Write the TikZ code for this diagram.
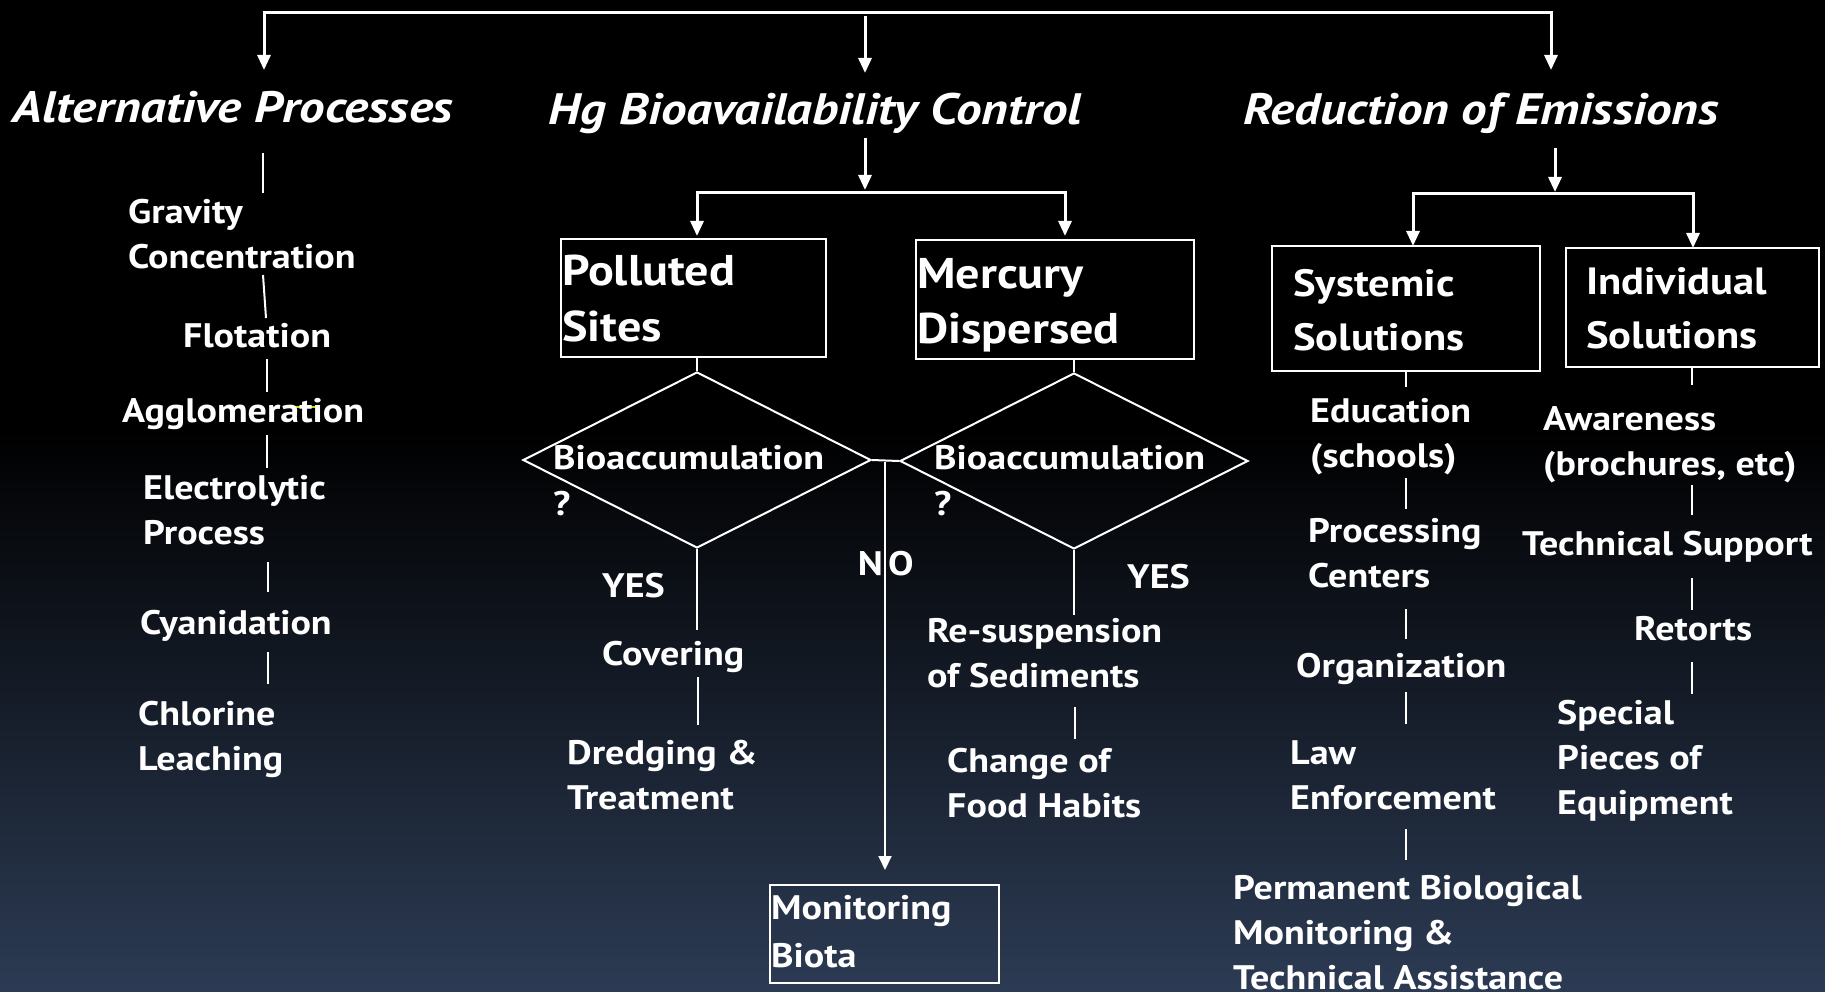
\documentclass[tikz,border=0pt]{standalone}
\usepackage{fontspec}
\setmainfont{PT Sans}[FakeStretch=1.12]
\newfontfamily\headfam{PT Sans}[FakeStretch=1.16]
\usetikzlibrary{shapes.geometric,arrows.meta}

\definecolor{bgnavy}{RGB}{44,59,84}
\definecolor{markyellow}{RGB}{215,210,0}

% multi-line texts are placed by the baseline of their last line
\newcommand\bodyfont{\fontsize{34}{45}\selectfont\bfseries}
\newcommand\headfont{\headfam\fontsize{44}{50}\selectfont\bfseries\itshape}
\newcommand\bigboxfont{\fontsize{43}{55}\selectfont\bfseries}
\newcommand\solfont{\fontsize{38}{54}\selectfont\bfseries}
\newcommand\diafont{\fontsize{34}{46}\selectfont\bfseries}
\newcommand\monfont{\fontsize{34}{48}\selectfont\bfseries}

\begin{document}
\begin{tikzpicture}[x=1pt,y=-1pt,
  every node/.style={text=white, inner sep=0pt, font=\bodyfont},
  txt/.style={anchor=base west, align=left},
  head/.style={anchor=base, font=\headfont},
  main/.style={draw=white, line width=3pt},
  conn/.style={draw=white, line width=2pt},
  tip/.style={-{Triangle[length=15pt,width=13pt]}},
  bothtips/.style={{Triangle[length=15pt,width=13pt]}-{Triangle[length=15pt,width=13pt]}},
  frame/.style={draw=white, line width=2pt, rectangle, anchor=north west},
  dia/.style={draw=white, line width=2pt, diamond, minimum width=348pt, minimum height=176pt}
]
\useasboundingbox (0,0) rectangle (1825,992);
\fill[black] (0,0) rectangle (1825,992);
\shade[top color=black, bottom color=bgnavy] (0,430) rectangle (1825,992);

% ---------- top level ----------
\node[head] (alt) at (233,123) {Alternative Processes};
\node[head] (hg)  at (815,125) {Hg Bioavailability Control};
\node[head] (red) at (1481,125) {Reduction of Emissions};

\coordinate (tl) at (264,13);
\coordinate (tr) at (1551,13);
\coordinate (altin) at (264,70);
\coordinate (redin) at (1551,70);
\coordinate (hgtop) at (865,16);
\coordinate (hgin) at (865,73);
\draw[main,bothtips] (altin) |- (tr) -- (redin);
\draw[main,tip] (hgtop) -- (hgin);

% ---------- alternative processes ----------
\draw[markyellow, line width=1.5pt] (283,407) -- (318,407);
\node[txt] (grav) at (128,269) {Gravity\\Concentration};
\node[txt] (flot) at (183,347) {Flotation};
\node[txt] (aggl) at (122,422) {Agglomeration};
\node[txt] (elec) at (143,544) {Electrolytic\\Process};
\node[txt] (cyan) at (140,634) {Cyanidation};
\node[txt] (chlo) at (138,770) {Chlorine\\Leaching};

\coordinate (a1) at (263,153); \coordinate (a2) at (263,193);
\coordinate (a3) at (263,275); \coordinate (a4) at (266,318);
\coordinate (a5) at (267,359); \coordinate (a6) at (267,392);
\coordinate (a7) at (267,435); \coordinate (a8) at (267,468);
\coordinate (a9) at (268,562); \coordinate (a10) at (268,592);
\coordinate (a11) at (268,652); \coordinate (a12) at (268,684);
\draw[conn] (a1) -- (a2);
\draw[conn] (a3) -- (a4);
\draw[conn] (a5) -- (a6);
\draw[conn] (a7) -- (a8);
\draw[conn] (a9) -- (a10);
\draw[conn] (a11) -- (a12);

% ---------- Hg bioavailability control ----------
\coordinate (hgs) at (865,138);
\coordinate (hgj) at (865,190);
\draw[main,tip] (hgs) -- (hgj);
\coordinate (psin) at (697,236);
\coordinate (mdin) at (1065,236);
\coordinate (mdbr) at (1065,193);
\draw[main,bothtips] (psin) |- (mdbr) -- (mdin);

\node[frame, minimum width=265pt, minimum height=118pt] (ps) at (560,238) {};
\node[txt, font=\bigboxfont] (pst) at (562,341) {Polluted\\Sites};
\node[frame, minimum width=278pt, minimum height=119pt] (md) at (915,239) {};
\node[txt, font=\bigboxfont] (mdt) at (917,343) {Mercury\\Dispersed};

\node[dia] (d1) at (697,460) {};
\node[dia] (d2) at (1074,461) {};
\node[txt, font=\diafont] (d1t) at (553,515) {Bioaccumulation\\?};
\node[txt, font=\diafont] (d2t) at (934,515) {Bioaccumulation\\?};
\draw[conn] (ps.south -| d1.north) -- (d1.north);
\draw[conn] (md.south -| d2.north) -- (d2.north);

% NO branch between the diamonds
\coordinate (nosplit) at (885,462);
\coordinate (monin) at (885,870);
\draw[conn] (d1.east) -- (d2.west);
\draw[conn,-{Triangle[length=14pt,width=13pt]}] (nosplit) -- (monin);
\node[anchor=base east] (nol) at (883,575) {N};
\node[anchor=base west] (nor) at (888,575) {O};

\node[txt] (yes1) at (602,597) {YES};
\node[txt] (yes2) at (1127,588) {YES};

\node[txt] (cov) at (602,665) {Covering};
\node[txt] (dred) at (567,809) {Dredging \&\\Treatment};
\coordinate (c1) at (697,630);
\coordinate (c2) at (698,677); \coordinate (c3) at (698,725);
\draw[conn] (d1.south) -- (c1);
\draw[conn] (c2) -- (c3);

\node[txt] (resus) at (927,687) {Re-suspension\\of Sediments};
\node[txt] (food) at (947,817) {Change of\\Food Habits};
\coordinate (r1) at (1074,615);
\coordinate (r2) at (1075,707); \coordinate (r3) at (1075,739);
\draw[conn] (d2.south) -- (r1);
\draw[conn] (r2) -- (r3);

\node[frame, minimum width=229pt, minimum height=98pt] (mon) at (769,884) {};
\node[txt, font=\monfont] (mont) at (771,967) {Monitoring\\Biota};

% ---------- reduction of emissions ----------
\coordinate (res) at (1555,148);
\coordinate (rej) at (1555,192);
\draw[main,tip] (res) -- (rej);
\coordinate (sysin) at (1413,246);
\coordinate (indbr) at (1693,194);
\coordinate (indin) at (1693,248);
\draw[main,bothtips] (sysin) |- (indbr) -- (indin);

\node[frame, minimum width=268pt, minimum height=125pt] (sys) at (1271,245) {};
\node[txt, font=\solfont] (syst) at (1293,350) {Systemic\\Solutions};
\node[frame, minimum width=253pt, minimum height=119pt] (ind) at (1565,247) {};
\node[txt, font=\solfont] (indt) at (1586,348) {Individual\\Solutions};

\node[txt] (edu)  at (1310,467) {Education\\(schools)};
\node[txt] (proc) at (1308,587) {Processing\\Centers};
\node[txt] (org)  at (1296,677) {Organization};
\node[txt] (law)  at (1290,809) {Law\\Enforcement};
\node[txt] (perm) at (1233,989) {Permanent Biological\\Monitoring \&\\Technical Assistance};

\coordinate (s1) at (1406,387);
\coordinate (s2) at (1406,478); \coordinate (s3) at (1406,509);
\coordinate (s4) at (1406,609); \coordinate (s5) at (1406,639);
\coordinate (s6) at (1406,692); \coordinate (s7) at (1406,724);
\coordinate (s8) at (1406,829); \coordinate (s9) at (1406,860);
\draw[conn] (sys.south -| s1) -- (s1);
\draw[conn] (s2) -- (s3);
\draw[conn] (s4) -- (s5);
\draw[conn] (s6) -- (s7);
\draw[conn] (s8) -- (s9);

\node[txt] (awa)  at (1543,475) {Awareness\\(brochures, etc)};
\node[txt] (tech) at (1522,555) {Technical Support};
\node[txt] (ret)  at (1634,640) {Retorts};
\node[txt] (spec) at (1557,814) {Special\\Pieces of\\Equipment};

\coordinate (i1) at (1692,385);
\coordinate (i2) at (1692,485); \coordinate (i3) at (1692,515);
\coordinate (i4) at (1692,578); \coordinate (i5) at (1692,610);
\coordinate (i6) at (1692,662); \coordinate (i7) at (1692,694);
\draw[conn] (ind.south -| i1) -- (i1);
\draw[conn] (i2) -- (i3);
\draw[conn] (i4) -- (i5);
\draw[conn] (i6) -- (i7);
\end{tikzpicture}
\end{document}
